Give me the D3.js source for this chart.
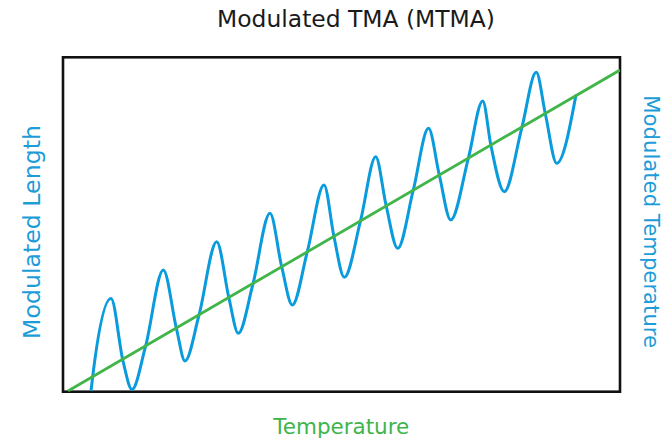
<!DOCTYPE html>
<html>
<head>
<meta charset="utf-8">
<script src="https://cdn.jsdelivr.net/npm/d3@7"></script>
<style>
  html, body { margin: 0; padding: 0; background: #fff; }
  svg { display: block; }
</style>
</head>
<body>
<svg id="chart" width="671" height="440"></svg>
<script>
// ---- Data (arbitrary units 0..100) ----
const titleText = "Modulated TMA (MTMA)";
const xLabelText = "Temperature";
const leftLabelText = "Modulated Length";
const rightLabelText = "Modulated Temperature";

// Underlying (linear) temperature ramp
const rampX = [0.9, 100];
const rampY = [0.2, 96.2];

// Modulated response: start, then per cycle rising crossing, peak, falling crossing, trough
const waveX = [5.03, 5.33, 8.62, 10.77, 12.39, 14.81, 18.01, 20.38, 21.90, 24.42, 27.59, 29.80, 31.47,
               34.06, 37.16, 39.26, 41.17, 43.86, 46.86, 48.65, 50.50, 53.45, 56.14, 57.99, 60.09,
               62.89, 65.62, 67.56, 69.61, 72.77, 75.35, 76.84, 79.23, 82.35, 84.96, 86.62, 88.64, 92.10];
const waveY = [0.21, 4.49, 27.87, 9.18, 0.66, 13.52, 36.39, 18.75, 9.18, 22.94, 44.86, 27.93, 17.46,
               31.91, 53.35, 37.38, 25.93, 41.87, 61.81, 46.35, 34.21, 51.35, 70.28, 55.83, 42.88,
               60.32, 78.77, 64.80, 51.35, 69.80, 86.93, 73.47, 59.81, 78.77, 95.51, 82.89, 68.30, 88.76];

const xDomain = [0, 100];
const yDomain = [0, 100];

// ---- Layout ----
const svg = d3.select("#chart");
const frame = { left: 63, right: 620, top: 57.3, bottom: 391.7 };

const x = d3.scaleLinear().domain(xDomain).range([frame.left, frame.right]);
const y = d3.scaleLinear().domain(yDomain).range([frame.bottom, frame.top]);

const FONT = "'DejaVu Sans', sans-serif";
const BLUE_LINE = "#0a9bdc";
const BLUE_TEXT = "#1c9cd8";
const GREEN_LINE = "#41b549";
const GREEN_TEXT = "#3db54a";

function fitWidth(sel, target) {
  const w = sel.node().getComputedTextLength();
  const fs = parseFloat(sel.attr("font-size"));
  sel.attr("font-size", (fs * target / w).toFixed(2));
}

// Frame
svg.append("rect")
  .attr("x", x(xDomain[0])).attr("y", y(yDomain[1]))
  .attr("width", x(xDomain[1]) - x(xDomain[0]))
  .attr("height", y(yDomain[0]) - y(yDomain[1]))
  .attr("fill", "none").attr("stroke", "#111").attr("stroke-width", 2.6);

svg.append("defs").append("clipPath").attr("id", "plotclip")
  .append("rect")
  .attr("x", x(xDomain[0])).attr("y", y(yDomain[1]))
  .attr("width", x(xDomain[1]) - x(xDomain[0]))
  .attr("height", y(yDomain[0]) - y(yDomain[1]));

const plot = svg.append("g").attr("clip-path", "url(#plotclip)");

// Modulated wave
const wavePts = waveX.map((v, i) => [v, waveY[i]]);
const waveLine = d3.line().x(d => x(d[0])).y(d => y(d[1])).curve(d3.curveMonotoneX);
plot.append("path")
  .attr("d", waveLine(wavePts))
  .attr("fill", "none").attr("stroke", BLUE_LINE).attr("stroke-width", 3)
  .attr("stroke-linecap", "butt").attr("stroke-linejoin", "round");

// Linear ramp
const rampPts = rampX.map((v, i) => [v, rampY[i]]);
const rampLine = d3.line().x(d => x(d[0])).y(d => y(d[1]));
plot.append("path")
  .attr("d", rampLine(rampPts))
  .attr("fill", "none").attr("stroke", GREEN_LINE).attr("stroke-width", 2.8);

// Title
const title = svg.append("text")
  .attr("x", 356).attr("y", 27)
  .attr("text-anchor", "middle")
  .attr("font-family", FONT).attr("font-size", 22)
  .attr("fill", "#1a1a1a")
  .text(titleText);
fitWidth(title, 278);

// X label
const xl = svg.append("text")
  .attr("x", 341.3).attr("y", 434.3)
  .attr("text-anchor", "middle")
  .attr("font-family", FONT).attr("font-size", 20)
  .attr("fill", GREEN_TEXT)
  .text(xLabelText);
fitWidth(xl, 136);

// Left label (reads bottom to top)
const ll = svg.append("text")
  .attr("transform", "translate(39.5,232) rotate(-90)")
  .attr("text-anchor", "middle")
  .attr("font-family", FONT).attr("font-size", 20)
  .attr("fill", BLUE_TEXT)
  .text(leftLabelText);
fitWidth(ll, 214);

// Right label (reads top to bottom)
const rl = svg.append("text")
  .attr("transform", "translate(643.5,221.7) rotate(90)")
  .attr("text-anchor", "middle")
  .attr("font-family", FONT).attr("font-size", 20)
  .attr("fill", BLUE_TEXT)
  .text(rightLabelText);
fitWidth(rl, 253);
</script>
</body>
</html>
